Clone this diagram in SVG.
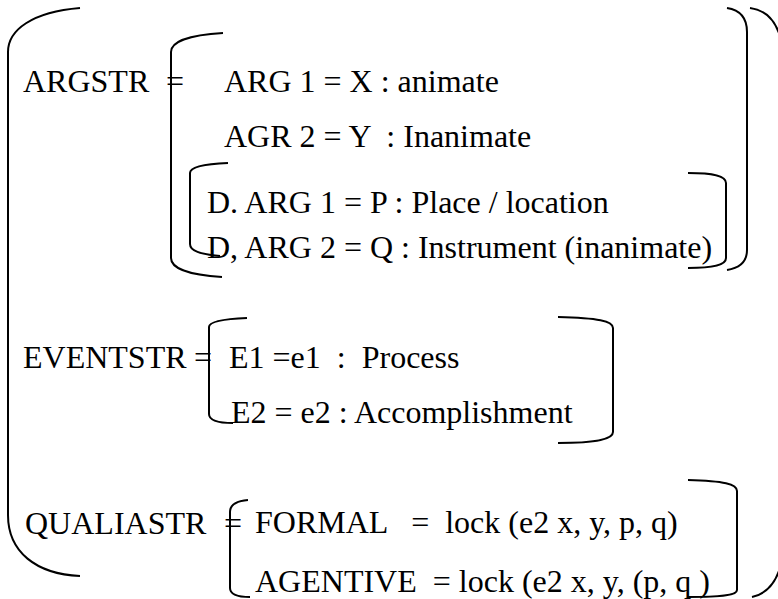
<svg xmlns="http://www.w3.org/2000/svg" width="778" height="599" viewBox="0 0 778 599">
<style>
.t{font-family:'Liberation Serif','Times New Roman',serif;font-size:32px;fill:#000;white-space:pre}
.b{fill:none;stroke:#000;stroke-width:2}
</style>
<rect width="778" height="599" fill="#fff"/>
<g id="connectors">
<path class="b" d="M80,8 C32,12 8,30 8,52 L8,515 C8,552 36,574 80,576"/>
<path class="b" d="M750,8 C766,10 775,20 780,36"/>
<path class="b" d="M752,597 C766,594 775,584 780,568"/>
</g>
<g id="argstr">
<text class="t" x="23" y="92">ARGSTR<tspan x="166">=</tspan></text>
<path class="b" d="M223,33 C188,35 171,42 171,52 L171,258 C171,268 188,275 222,277"/>
<text class="t" x="224" y="92">ARG 1 = X : animate</text>
<text class="t" x="224" y="147" xml:space="preserve">AGR 2 = Y  : Inanimate</text>
<path class="b" d="M228,163 C204,164 190,167 190,173 L190,244 C190,251 200,254 220,256"/>
<text class="t" x="207" y="213">D. ARG 1 = P : Place / location</text>
<text class="t" x="207" y="258">D, ARG 2 = Q : Instrument (inanimate)</text>
<path class="b" d="M688,173 C714,173 726,176 726,183 L726,258 C726,265 714,268 688,268"/>
<path class="b" d="M727,8 C740,10 747,18 747,32 L747,250 C747,262 740,268 727,270"/>
</g>
<g id="eventstr">
<text class="t" x="23" y="368">EVENTSTR<tspan x="194">=</tspan></text>
<path class="b" d="M247,318 C222,319 209,322 209,327 L209,414 C209,420 218,423 233,423"/>
<text class="t" x="229" y="368" xml:space="preserve">E1 =e1  :  Process</text>
<text class="t" x="231" y="423">E2 = e2 : Accomplishment</text>
<path class="b" d="M558,317 C598,318 613,321 613,328 L613,432 C613,439 598,443 558,443"/>
</g>
<g id="qualiastr">
<text class="t" x="25" y="534">QUALIASTR<tspan x="224">=</tspan></text>
<path class="b" d="M248,500 C236,501 230,505 230,512 L230,588 C230,594 236,597 250,597"/>
<text class="t" x="255" y="533" xml:space="preserve">FORMAL   =  lock (e2 x, y, p, q)</text>
<text class="t" x="255" y="592" xml:space="preserve">AGENTIVE  = lock (e2 x, y, (p, q )</text>
<path class="b" d="M688,480 C724,481 737,484 737,491 L737,590 C737,595 724,597 688,597"/>
</g>
</svg>
